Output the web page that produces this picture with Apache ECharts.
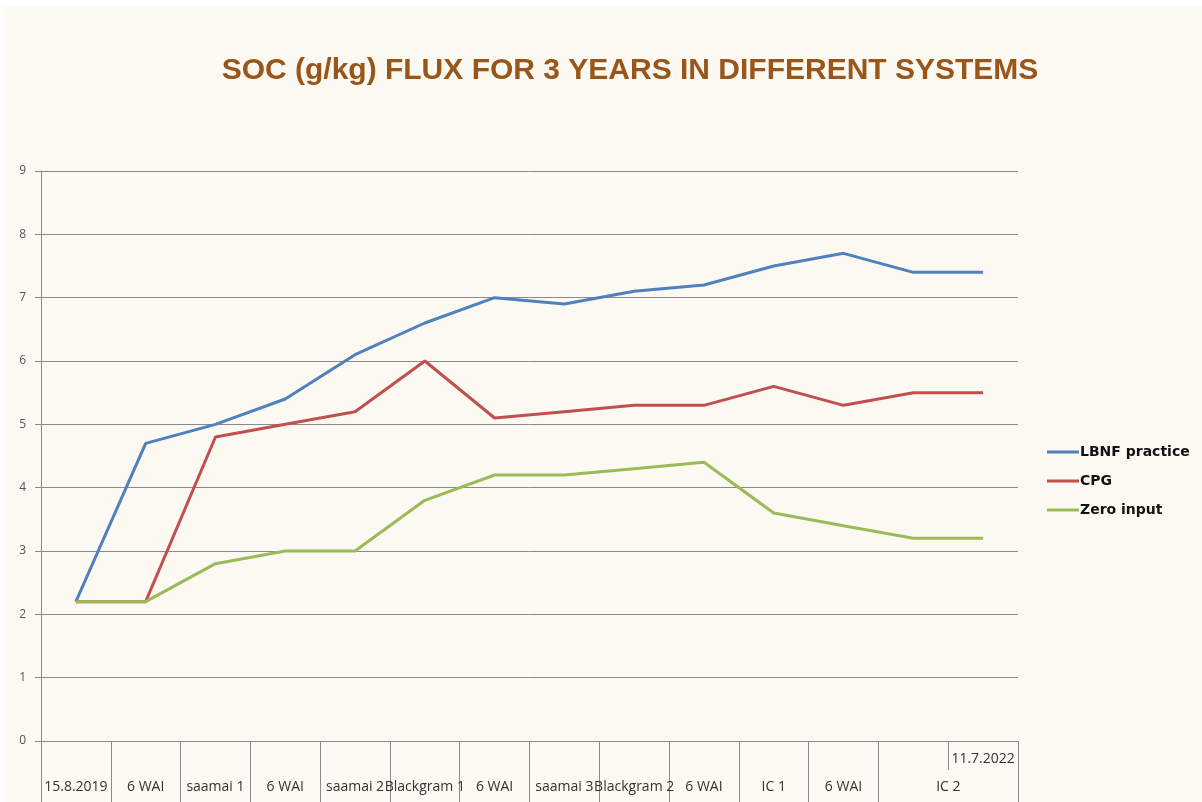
<!DOCTYPE html>
<html>
<head>
<meta charset="utf-8">
<script src="https://cdn.jsdelivr.net/npm/echarts@6/dist/echarts.min.js"></script>
<style>
  html, body { margin: 0; padding: 0; background: #ffffff; }
  #bg { position: absolute; left: 3px; top: 7px; width: 1199px; height: 795px; background: #FCF8F2; }
  #chart { position: absolute; left: 0; top: 0; width: 1202px; height: 802px; }
</style>
</head>
<body>
<div id="bg"></div>
<div id="chart"></div>
<script>
// ---- data ----
const bottomLabels = ["15.8.2019", "6 WAI", "saamai 1", "6 WAI", "saamai 2", "Blackgram 1", "6 WAI",
  "saamai 3", "Blackgram 2", "6 WAI", "IC 1", "6 WAI", "IC 2", ""];
const topLabels = ["", "", "", "", "", "", "", "", "", "", "", "", "", "11.7.2022"];
const lbnf = [2.2, 4.7, 5.0, 5.4, 6.1, 6.6, 7.0, 6.9, 7.1, 7.2, 7.5, 7.7, 7.4, 7.4];
const cpg = [2.2, 2.2, 4.8, 5.0, 5.2, 6.0, 5.1, 5.2, 5.3, 5.3, 5.6, 5.3, 5.5, 5.5];
const zeroInput = [2.2, 2.2, 2.8, 3.0, 3.0, 3.8, 4.2, 4.2, 4.3, 4.4, 3.6, 3.4, 3.2, 3.2];
const yTicks = [0, 1, 2, 3, 4, 5, 6, 7, 8, 9];

const chart = echarts.init(document.getElementById('chart'), null, { renderer: 'canvas' });
const labelFont = '"Open Sans", "Liberation Sans", sans-serif';

const bottomData = bottomLabels.map(function (l) {
  if (l === 'IC 2') return { value: l, textStyle: { padding: [0, 0, 0, 70] } };
  return l;
});

const option = {
  backgroundColor: 'transparent',
  animation: false,
  title: {
    text: 'SOC (g/kg) FLUX FOR 3 YEARS IN DIFFERENT SYSTEMS',
    left: 625,
    textAlign: 'center',
    top: 51,
    textStyle: {
      color: '#98561A',
      fontFamily: '"Liberation Sans", Arial, sans-serif',
      fontWeight: 'bold',
      fontSize: 30
    }
  },
  legend: {
    orient: 'vertical',
    left: 1042,
    top: 440,
    itemWidth: 32,
    itemHeight: 3,
    itemGap: 15,
    icon: 'rect',
    textStyle: {
      color: '#111',
      fontFamily: '"DejaVu Sans", sans-serif',
      fontWeight: 'bold',
      fontSize: 14,
      padding: [0, 0, 0, -4]
    },
    data: ['LBNF practice', 'CPG', 'Zero input']
  },
  grid: { left: 41, right: 184, top: 171, bottom: 61, containLabel: false },
  xAxis: [
    {
      type: 'category',
      data: bottomData,
      boundaryGap: true,
      axisLine: { show: true, lineStyle: { color: '#8a8a8a', width: 1 } },
      axisTick: {
        show: true, length: 61, inside: false,
        interval: function (index) { return index !== 13; },
        lineStyle: { color: '#8a8a8a', width: 1 }
      },
      axisLabel: {
        interval: 0, hideOverlap: false, margin: 39,
        color: '#333', fontFamily: labelFont, fontSize: 14
      },
      splitLine: { show: false }
    },
    {
      type: 'category',
      data: topLabels,
      boundaryGap: true,
      position: 'bottom',
      axisLine: { show: false },
      axisTick: {
        show: true, length: 29,
        interval: function (index) { return index >= 12; },
        lineStyle: { color: '#8a8a8a', width: 1 }
      },
      axisLabel: {
        interval: 0, hideOverlap: false, margin: 11,
        color: '#333', fontFamily: labelFont, fontSize: 14
      },
      splitLine: { show: false }
    }
  ],
  yAxis: {
    type: 'value',
    min: yTicks[0],
    max: yTicks[yTicks.length - 1],
    interval: 1,
    axisLine: { show: true, lineStyle: { color: '#8a8a8a', width: 1 } },
    axisTick: { show: true, length: 6, lineStyle: { color: '#8a8a8a' } },
    axisLabel: { color: '#555', fontFamily: labelFont, fontSize: 12, margin: 15 },
    splitLine: { show: true, lineStyle: { color: '#8a8a8a', width: 1 } }
  },
  series: [
    { name: 'LBNF practice', type: 'line', data: lbnf, xAxisIndex: 0, symbol: 'none',
      lineStyle: { color: '#4F81BD', width: 3 }, itemStyle: { color: '#4F81BD' } },
    { name: 'CPG', type: 'line', data: cpg, xAxisIndex: 0, symbol: 'none',
      lineStyle: { color: '#C0504D', width: 3 }, itemStyle: { color: '#C0504D' } },
    { name: 'Zero input', type: 'line', data: zeroInput, xAxisIndex: 0, symbol: 'none',
      lineStyle: { color: '#9BBB59', width: 3 }, itemStyle: { color: '#9BBB59' } }
  ]
};
chart.setOption(option);
</script>
</body>
</html>
